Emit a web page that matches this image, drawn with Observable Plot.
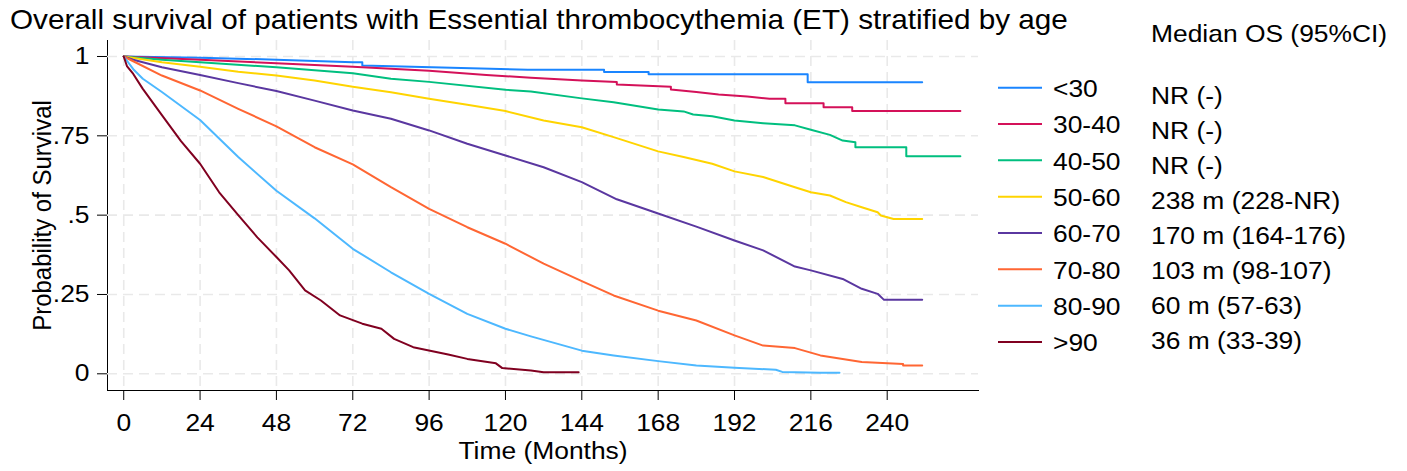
<!DOCTYPE html>
<html><head><meta charset="utf-8">
<script src="https://cdn.jsdelivr.net/npm/d3@7"></script>
<script src="https://cdn.jsdelivr.net/npm/@observablehq/plot@0.6"></script>
<style>
body{margin:0;background:#fff;}
#chart{position:relative;width:1407px;height:471px;font-family:"Liberation Sans",Arial,Helvetica,sans-serif;}
#chart svg{position:absolute;left:0;top:0;}
</style></head><body><div id="chart"></div>
<script>
// ---------- data ----------
const titleText = "Overall survival of patients with Essential thrombocythemia (ET) stratified by age";
const xLabel = "Time (Months)";
const yLabel = "Probability of Survival";
const groups = ["<30", "30-40", "40-50", "50-60", "60-70", "70-80", "80-90", ">90"];
const colors = ["#1a85ff", "#d41159", "#00bf7f", "#ffd400", "#5a37a0", "#ff6633", "#4db8ff", "#800020"];
const medianHeader = "Median OS (95%CI)";
const medianOS = ["NR (-)", "NR (-)", "NR (-)", "238 m (228-NR)", "170 m (164-176)", "103 m (98-107)", "60 m (57-63)", "36 m (33-39)"];
const xTicks = [0, 24, 48, 72, 96, 120, 144, 168, 192, 216, 240];
const yTicks = [0, 0.25, 0.5, 0.75, 1];
const yTickLabels = ["0", ".25", ".5", ".75", "1"];

const time_lt30 = [0, 24, 48, 72, 75, 75, 100, 127, 151, 151, 165, 165, 215, 215, 251];
const surv_lt30 = [1, 0.996, 0.99, 0.982, 0.982, 0.972, 0.965, 0.958, 0.958, 0.951, 0.951, 0.944, 0.944, 0.919, 0.919];

const time_30_40 = [0, 24, 48, 72, 96, 114, 128, 144, 155, 155, 172, 172, 180, 187, 196, 203, 208, 208, 220, 220, 229, 229, 263];
const surv_30_40 = [1, 0.99, 0.979, 0.968, 0.955, 0.942, 0.933, 0.924, 0.920, 0.912, 0.905, 0.896, 0.888, 0.880, 0.874, 0.867, 0.867, 0.853, 0.853, 0.840, 0.840, 0.828, 0.828];

const time_40_50 = [0, 12, 24, 48, 72, 84, 96, 120, 128, 144, 154, 168, 176, 179, 185, 192, 201, 211, 216, 222, 226, 230, 230, 246, 246, 263];
const surv_40_50 = [1, 0.99, 0.982, 0.966, 0.947, 0.93, 0.92, 0.895, 0.89, 0.868, 0.856, 0.833, 0.827, 0.817, 0.812, 0.798, 0.790, 0.783, 0.769, 0.753, 0.735, 0.730, 0.714, 0.714, 0.686, 0.686];

const time_50_60 = [0, 12, 24, 36, 48, 60, 72, 84, 96, 108, 120, 132, 144, 154, 168, 176, 185, 192, 201, 211, 216, 222, 227, 232, 237, 238, 242, 251];
const surv_50_60 = [1, 0.982, 0.968, 0.952, 0.94, 0.924, 0.905, 0.887, 0.867, 0.848, 0.828, 0.798, 0.777, 0.746, 0.701, 0.683, 0.662, 0.638, 0.620, 0.588, 0.572, 0.562, 0.541, 0.525, 0.509, 0.499, 0.488, 0.488];

const time_60_70 = [0, 3, 12, 24, 36, 48, 60, 72, 84, 96, 108, 120, 132, 144, 155, 168, 180, 192, 201, 211, 216, 226, 232, 237, 239, 251];
const surv_60_70 = [1, 0.99, 0.966, 0.942, 0.916, 0.891, 0.861, 0.83, 0.804, 0.767, 0.725, 0.688, 0.651, 0.604, 0.55, 0.505, 0.464, 0.420, 0.389, 0.338, 0.326, 0.299, 0.268, 0.252, 0.233, 0.233];

const time_70_80 = [0, 3, 12, 24, 36, 48, 60, 72, 84, 96, 108, 120, 132, 144, 154, 168, 180, 192, 201, 211, 219, 232, 245, 245, 251];
const surv_70_80 = [1, 0.985, 0.94, 0.893, 0.835, 0.78, 0.714, 0.66, 0.588, 0.52, 0.462, 0.41, 0.347, 0.292, 0.247, 0.199, 0.168, 0.121, 0.089, 0.081, 0.058, 0.037, 0.031, 0.026, 0.026];

const time_80_90 = [0, 3, 6, 12, 24, 36, 48, 60, 72, 84, 96, 108, 120, 128, 144, 154, 168, 180, 192, 205, 207, 219, 225];
const surv_80_90 = [1, 0.96, 0.93, 0.888, 0.80, 0.683, 0.577, 0.49, 0.394, 0.320, 0.252, 0.189, 0.142, 0.118, 0.073, 0.058, 0.040, 0.026, 0.019, 0.013, 0.006, 0.003, 0.003];

const time_gt90 = [0, 1, 3, 6, 12, 18, 24, 30, 36, 42, 48, 52, 57, 62, 68, 75, 81, 85, 91, 102, 108, 117, 119, 128, 132, 143];
const surv_gt90 = [1, 0.97, 0.945, 0.898, 0.815, 0.733, 0.662, 0.572, 0.5, 0.43, 0.368, 0.326, 0.263, 0.231, 0.184, 0.158, 0.142, 0.110, 0.084, 0.061, 0.047, 0.033, 0.018, 0.0105, 0.005, 0.005];

const seriesTimes = [time_lt30, time_30_40, time_40_50, time_50_60, time_60_70, time_70_80, time_80_90, time_gt90];
const seriesSurv = [surv_lt30, surv_30_40, surv_40_50, surv_50_60, surv_60_70, surv_70_80, surv_80_90, surv_gt90];

const rows = groups.flatMap((g, i) => seriesTimes[i].map((t, j) => ({group: g, t, s: seriesSurv[i][j]})));

// ---------- chart ----------
const STRETCH = 1.1;
const FONT = '"Liberation Sans", Arial, Helvetica, sans-serif';
const W = 1407, H = 471;

const plot = Plot.plot({
  width: W, height: H,
  marginLeft: 107, marginRight: 429, marginTop: 40, marginBottom: 81,
  style: {fontFamily: FONT, fontSize: "24px", color: "#000", background: "transparent"},
  x: {domain: [-5.1, 268.7], ticks: xTicks, tickSize: 10, tickPadding: 13, line: true,
      label: xLabel, labelAnchor: "center", labelOffset: 68, labelArrow: "none"},
  y: {domain: [-0.0526, 1.0504], ticks: yTicks, tickSize: 10, tickPadding: 8, line: true,
      tickFormat: d => yTickLabels[yTicks.indexOf(d)],
      label: yLabel, labelAnchor: "center", labelOffset: 75, labelArrow: "none"},
  color: {domain: groups, range: colors},
  marks: [
    Plot.gridX(xTicks, {stroke: "#e9e9e9", strokeOpacity: 1, strokeWidth: 1.6, strokeDasharray: "10,6"}),
    Plot.gridY(yTicks, {stroke: "#e9e9e9", strokeOpacity: 1, strokeWidth: 1.6, strokeDasharray: "10,6"}),
    Plot.line(rows, {x: "t", y: "s", z: "group", stroke: "group", strokeWidth: 2, curve: "linear"})
  ]
});
document.getElementById("chart").append(plot);

// horizontal text stretch to match the reference's aspect
d3.select(plot).selectAll("text").each(function () {
  const tr = this.getAttribute("transform");
  if (tr && /translate\(/.test(tr)) {
    this.setAttribute("transform", tr.replace(/(translate\([^)]*\))/, `$1 scale(${STRETCH},1)`));
  } else {
    const x = +this.getAttribute("x") || 0, y = +this.getAttribute("y") || 0;
    this.setAttribute("transform", `translate(${x},${y}) scale(${STRETCH},1) translate(${-x},${-y})`);
  }
});

// ---------- title + legend overlay ----------
const svg = d3.create("svg").attr("width", W).attr("height", H)
  .style("font-family", FONT).style("pointer-events", "none");

svg.append("text").attr("transform", `translate(10,29) scale(${STRETCH},1)`)
  .attr("font-size", 27).attr("fill", "#000").text(titleText);

const legY0 = 87.7, legDY = 36.33;
groups.forEach((g, i) => {
  const y = legY0 + i * legDY;
  svg.append("line").attr("x1", 998).attr("x2", 1042).attr("y1", y).attr("y2", y)
    .attr("stroke", colors[i]).attr("stroke-width", 2);
  svg.append("text").attr("transform", `translate(1053,${y + 9.3}) scale(${STRETCH},1)`)
    .attr("font-size", 24).attr("fill", "#000").text(g);
});

svg.append("text").attr("transform", `translate(1151,41.8) scale(${STRETCH},1)`)
  .attr("font-size", 24).attr("fill", "#000").text(medianHeader);
medianOS.forEach((m, i) => {
  const y = 103.8 + i * 35.06;
  svg.append("text").attr("transform", `translate(1151,${y}) scale(${STRETCH},1)`)
    .attr("font-size", 24).attr("fill", "#000").text(m);
});
document.getElementById("chart").append(svg.node());
</script></body></html>
